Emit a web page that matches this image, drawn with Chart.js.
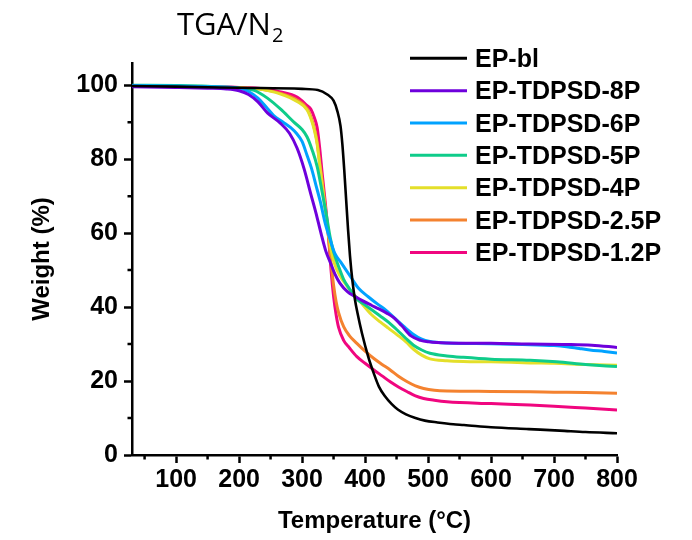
<!DOCTYPE html>
<html lang="en">
<head>
    <meta charset="UTF-8">
    <title>TGA/N2</title>
    <script src="https://cdn.jsdelivr.net/npm/chart.js"></script>
    <style>
        html, body { margin: 0; padding: 0; background: #fff; }
        #tga { display: block; }
    </style>
</head>
<body>
    <canvas id="tga" width="692" height="540"></canvas>

    <script>
        // series names / colours
        const names = ['EP-bl', 'EP-TDPSD-8P', 'EP-TDPSD-6P', 'EP-TDPSD-5P', 'EP-TDPSD-4P', 'EP-TDPSD-2.5P', 'EP-TDPSD-1.2P'];
        const colors = ['#000000', '#6e00dc', '#00a2ff', '#0fcc8a', '#e4df2a', '#f4822f', '#f0067f'];

        // temperature (°C) / weight (%)
        const tBl = [30, 100, 200, 300, 325, 340, 350, 356, 361, 364, 367, 370, 373, 376, 380, 384, 388, 395, 405, 414, 422, 432, 442, 452, 465, 480, 495, 515, 540, 557, 600, 660, 709, 750, 800];
        const wBl = [99.8, 99.6, 99.3, 99.0, 98.7, 97.5, 95.8, 93, 89, 84, 77, 69, 61, 54, 47, 42, 38.4, 33, 26.6, 22, 18.5, 15.8, 13.8, 12.3, 11.0, 10.0, 9.3, 8.8, 8.3, 8.1, 7.5, 7.0, 6.6, 6.2, 5.9];

        const t8 = [30, 100, 150, 180, 200, 215, 230, 245, 265, 280, 292, 303, 314, 322, 330, 338, 345, 352, 360, 372, 385, 395, 410, 422, 435, 445, 458, 473, 488, 501, 530, 600, 660, 720, 760, 800];
        const w8 = [99.6, 99.4, 99.2, 99.0, 98.5, 97.5, 95.5, 92.5, 89.8, 87, 83, 77.5, 70.5, 65.5, 60, 55, 52, 49, 46.5, 44.2, 42.8, 41.8, 40.5, 39.5, 38.3, 37.2, 35, 32.2, 31, 30.6, 30.3, 30.2, 30, 29.9, 29.7, 29.1];

        const t6 = [30, 100, 150, 200, 215, 230, 245, 255, 270, 282, 292, 300, 308, 315, 322, 329, 337, 345, 352, 362, 377, 390, 405, 420, 433, 447, 462, 477, 490, 503, 530, 600, 650, 700, 720, 740, 757, 780, 800];
        const w6 = [99.9, 99.8, 99.6, 99.2, 98.3, 96.5, 93.7, 91.8, 90, 88.5, 86.8, 84.8, 81, 77.5, 73, 68.5, 62.5, 58, 54.5, 52, 48.2, 45, 42.8, 40.8, 39.2, 37, 34.7, 32.6, 31.3, 30.7, 30.3, 30.1, 29.9, 29.6, 29.3, 28.8, 28.4, 28, 27.6];

        const t5 = [30, 100, 150, 200, 224, 245, 266, 287, 300, 308, 316, 324, 332, 338, 345, 350, 358, 366, 375, 388, 398, 411, 424, 438, 451, 465, 477, 490, 503, 530, 556, 600, 662, 704, 750, 800];
        const w5 = [100, 99.9, 99.7, 99.2, 98.6, 96.5, 93.5, 90, 88, 86, 82.5, 78, 71, 65.5, 58.5, 55, 51, 47.5, 45, 42, 40.8, 39.2, 37.6, 35.8, 33.8, 31.5, 29.7, 28.4, 27.5, 26.8, 26.4, 25.9, 25.6, 25.2, 24.5, 23.9];

        const t4 = [30, 100, 200, 230, 266, 292, 308, 315, 320, 324, 328, 332, 337, 342, 346, 352, 360, 370, 380, 390, 398, 410, 424, 437, 451, 465, 477, 490, 503, 530, 556, 600, 662, 700, 750, 800];
        const w4 = [99.8, 99.6, 99.3, 99.0, 97.6, 95.6, 93.3, 90.5, 87.5, 84, 78.5, 73, 66, 60, 55.5, 51.5, 48.5, 46, 43.8, 42, 40.3, 38, 36, 34.3, 32.5, 30.6, 28.6, 27, 26, 25.5, 25.3, 25.2, 24.9, 24.8, 24.5, 24.3];

        const t25 = [30, 100, 200, 230, 266, 292, 308, 315, 320, 324, 328, 332, 337, 342, 346, 350, 354, 358, 366, 375, 387, 400, 414, 427, 440, 453, 467, 480, 493, 510, 530, 600, 662, 700, 750, 800];
        const w25 = [99.8, 99.6, 99.3, 99.0, 97.8, 96, 93.7, 91, 88, 84.5, 79, 74, 67, 59, 52, 46, 41.5, 38.5, 34.7, 32.3, 30.2, 28.1, 26.1, 24.5, 23, 21.3, 19.8, 18.7, 18, 17.5, 17.3, 17.2, 17.1, 17.0, 16.9, 16.7];

        const t12 = [30, 100, 200, 240, 266, 292, 308, 314, 320, 324, 328, 332, 337, 342, 346, 350, 354, 358, 366, 375, 387, 400, 414, 427, 440, 453, 467, 480, 493, 510, 530, 600, 662, 700, 750, 800];
        const w12 = [99.9, 99.7, 99.4, 99.0, 98.2, 96.8, 94.5, 93.5, 91, 88.5, 83, 76, 68, 59, 50, 43, 38, 34.5, 31, 29, 26.6, 24.8, 23, 21.4, 19.8, 18.4, 17.1, 16, 15.3, 14.8, 14.4, 13.9, 13.5, 13.2, 12.7, 12.2];

        const temps = [tBl, t8, t6, t5, t4, t25, t12];
        const weights = [wBl, w8, w6, w5, w4, w25, w12];

        // axis ticks
        const xTicks = [100, 200, 300, 400, 500, 600, 700, 800];
        const xMinor = [50, 150, 250, 350, 450, 550, 650, 750];
        const yTicks = [0, 20, 40, 60, 80, 100];
        const yMinor = [10, 30, 50, 70, 90];

        const boldFont = "'Liberation Sans', Arial, sans-serif";

        const datasets = names.map((name, i) => ({
            label: name,
            data: temps[i].map((t, j) => ({ x: t, y: weights[i][j] })),
            borderColor: colors[i],
            borderWidth: i === 0 ? 2.6 : 3,
            pointRadius: 0,
            fill: false,
            cubicInterpolationMode: 'monotone',
            order: i
        }));

        // title, minor ticks and the legend box
        const extras = {
            id: 'extras',
            afterDraw(chart) {
                const ctx = chart.ctx;
                const xs = chart.scales.x, ys = chart.scales.y;
                const area = chart.chartArea;
                ctx.save();
                ctx.strokeStyle = '#000';
                ctx.lineWidth = 2.5;
                ctx.beginPath();
                xMinor.forEach(v => {
                    const px = xs.getPixelForValue(v);
                    ctx.moveTo(px, area.bottom);
                    ctx.lineTo(px, area.bottom + 4.5);
                });
                yMinor.forEach(v => {
                    const py = ys.getPixelForValue(v);
                    ctx.moveTo(area.left, py);
                    ctx.lineTo(area.left - 4.5, py);
                });
                ctx.stroke();

                // TGA/N2
                ctx.fillStyle = '#000';
                ctx.textBaseline = 'alphabetic';
                ctx.font = "31px 'Open Sans', sans-serif";
                ctx.fillText('TGA/N', 177, 35);
                const w = ctx.measureText('TGA/N').width;
                ctx.font = "20px 'Open Sans', sans-serif";
                ctx.fillText('2', 177 + w + 1, 42);

                // legend
                ctx.font = 'bold 25px ' + boldFont;
                chart.data.datasets.forEach((ds, i) => {
                    const y = 58.3 + i * 32.35;
                    ctx.strokeStyle = ds.borderColor;
                    ctx.lineWidth = 3;
                    ctx.beginPath();
                    ctx.moveTo(410, y);
                    ctx.lineTo(467, y);
                    ctx.stroke();
                    ctx.fillStyle = '#000';
                    ctx.fillText(ds.label, 475, y + 8.5);
                });
                ctx.restore();
            }
        };

        new Chart(document.getElementById('tga'), {
            type: 'line',
            data: { datasets: datasets },
            plugins: [extras],
            options: {
                responsive: false,
                animation: false,
                devicePixelRatio: 1,
                layout: { padding: { left: 0, top: 63, right: 75, bottom: 0 } },
                plugins: {
                    legend: { display: false },
                    tooltip: { enabled: false }
                },
                scales: {
                    x: {
                        type: 'linear',
                        min: 30,
                        max: 800,
                        afterBuildTicks: s => { s.ticks = xTicks.map(v => ({ value: v })); },
                        afterFit: s => { s.height = 85; },
                        border: { display: true, color: '#000', width: 2.5 },
                        grid: { drawOnChartArea: false, tickLength: 8, tickWidth: 2.5, tickColor: '#000' },
                        ticks: {
                            padding: 2,
                            color: '#000',
                            maxRotation: 0,
                            font: { family: boldFont, size: 25, weight: 'bold' }
                        },
                        title: {
                            display: true,
                            text: 'Temperature (°C)',
                            color: '#000',
                            padding: { top: 0, bottom: 4 },
                            font: { family: boldFont, size: 24, weight: 'bold' }
                        }
                    },
                    y: {
                        type: 'linear',
                        min: 0,
                        max: 106,
                        afterBuildTicks: s => { s.ticks = yTicks.map(v => ({ value: v })); },
                        afterFit: s => { s.width = 132; },
                        border: { display: true, color: '#000', width: 2.5 },
                        grid: { drawOnChartArea: false, tickLength: 8, tickWidth: 2.5, tickColor: '#000' },
                        ticks: {
                            padding: 6,
                            color: '#000',
                            font: { family: boldFont, size: 25, weight: 'bold' }
                        },
                        title: {
                            display: true,
                            text: 'Weight (%)',
                            color: '#000',
                            padding: { top: 28, bottom: 0 },
                            font: { family: boldFont, size: 24, weight: 'bold' }
                        }
                    }
                }
            }
        });
    </script>
</body>
</html>
